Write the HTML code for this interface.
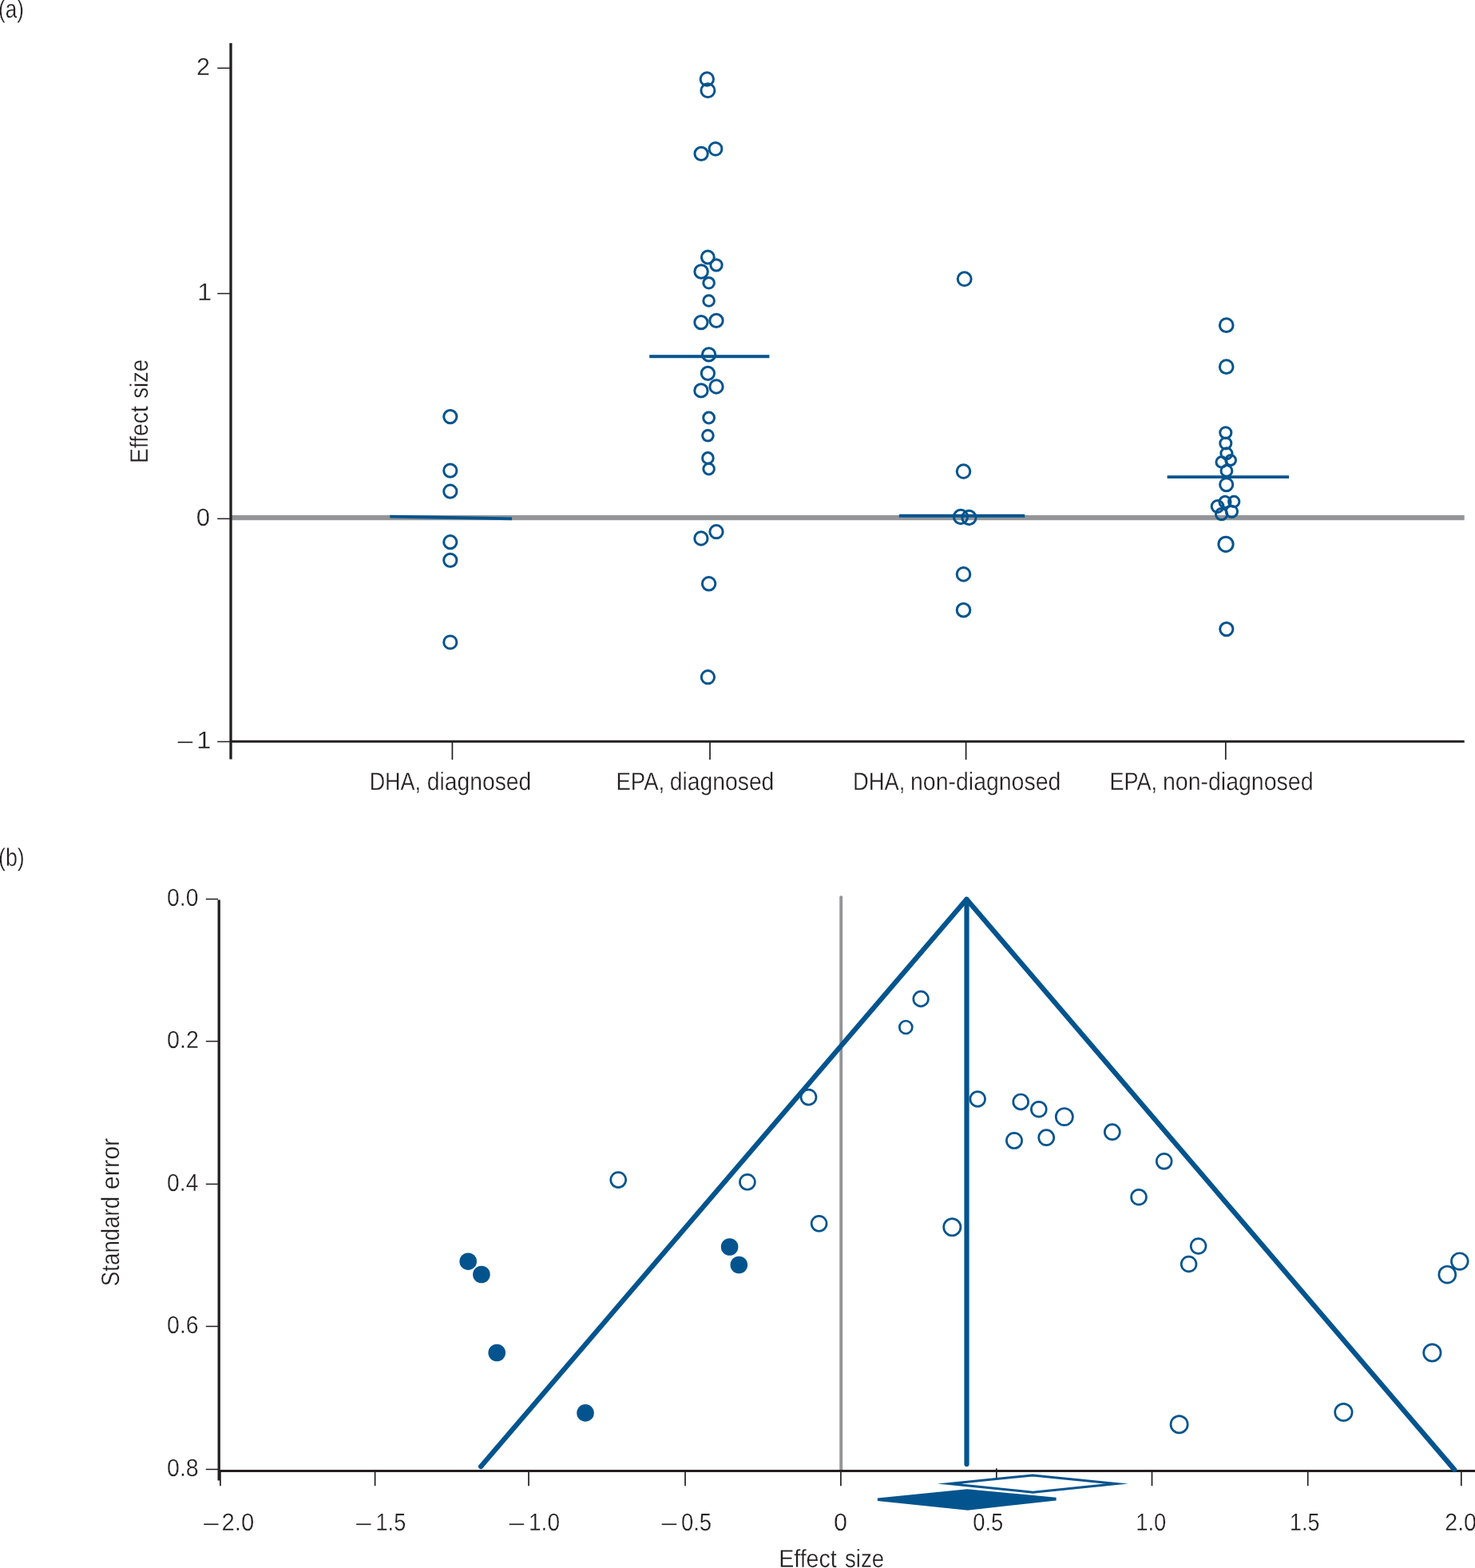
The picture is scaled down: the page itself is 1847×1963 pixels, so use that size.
<!DOCTYPE html>
<html lang="en"><head><meta charset="utf-8"><title>Effect size figure</title>
<style>html,body{margin:0;padding:0;background:#fff}svg{display:block}text{font-family:"Liberation Sans",sans-serif;fill:#231f20;stroke:#fff;stroke-width:0.3;text-rendering:geometricPrecision}</style></head><body>
<svg width="1847" height="1963" viewBox="0 0 1847 1963" role="img" aria-label="Effect size scatter plot and funnel plot">
<rect width="1847" height="1963" fill="#fff"/>
<g id="panel-a">
<text transform="translate(-1.96,22.10) scale(0.8176,1)" font-size="31.8">(a)</text>
<line x1="290" y1="648.15" x2="1833.7" y2="648.15" stroke="#939598" stroke-width="6.2"/>
<line x1="289" y1="54" x2="289" y2="950.5" stroke="#231f20" stroke-width="3.3"/>
<line x1="289" y1="928.3" x2="1833.7" y2="928.3" stroke="#231f20" stroke-width="3.05"/>
<line x1="272.2" y1="85.3" x2="288" y2="85.3" stroke="#231f20" stroke-width="1.5"/>
<line x1="272.2" y1="367.5" x2="288" y2="367.5" stroke="#231f20" stroke-width="1.5"/>
<line x1="272.2" y1="649.4" x2="288" y2="649.4" stroke="#231f20" stroke-width="1.5"/>
<line x1="272.2" y1="928.5" x2="288" y2="928.5" stroke="#231f20" stroke-width="1.5"/>
<line x1="566.4" y1="929" x2="566.4" y2="951.1" stroke="#231f20" stroke-width="1.7"/>
<line x1="889.0" y1="929" x2="889.0" y2="951.1" stroke="#231f20" stroke-width="1.7"/>
<line x1="1209.6" y1="929" x2="1209.6" y2="951.1" stroke="#231f20" stroke-width="1.7"/>
<line x1="1534.8" y1="929" x2="1534.8" y2="951.1" stroke="#231f20" stroke-width="1.7"/>
<text transform="translate(245.97,94.20) scale(0.9983,1)" font-size="30.6">2</text>
<text transform="translate(247.01,376.10) scale(1.0686,1)" font-size="30.6">1</text>
<text transform="translate(245.76,658.20) scale(1.0144,1)" font-size="30.6">0</text>
<text transform="translate(222.50,937.20) scale(1.1011,1)" font-size="30.6">–</text>
<text transform="translate(246.21,937.20) scale(1.0686,1)" font-size="30.6">1</text>
<text y="988.70" font-size="31.6"><tspan x="462.64" textLength="64.46" lengthAdjust="spacingAndGlyphs">DHA,</tspan> <tspan x="534.87" textLength="130.37" lengthAdjust="spacingAndGlyphs">diagnosed</tspan></text>
<text y="988.70" font-size="31.6"><tspan x="771.50" textLength="60.67" lengthAdjust="spacingAndGlyphs">EPA,</tspan> <tspan x="838.87" textLength="130.48" lengthAdjust="spacingAndGlyphs">diagnosed</tspan></text>
<text y="988.70" font-size="31.6"><tspan x="1068.11" textLength="65.33" lengthAdjust="spacingAndGlyphs">DHA,</tspan> <tspan x="1140.05" textLength="188.25" lengthAdjust="spacingAndGlyphs">non-diagnosed</tspan></text>
<text y="988.70" font-size="31.6"><tspan x="1389.54" textLength="59.58" lengthAdjust="spacingAndGlyphs">EPA,</tspan> <tspan x="1455.95" textLength="188.55" lengthAdjust="spacingAndGlyphs">non-diagnosed</tspan></text>
<text transform="translate(185.40,577.80) rotate(-90)" y="0" font-size="31.6"><tspan x="-2.26" textLength="71.70" lengthAdjust="spacingAndGlyphs">Effect</tspan> <tspan x="78.98" textLength="48.75" lengthAdjust="spacingAndGlyphs">size</tspan></text>
<line x1="488.3" y1="646.6" x2="641.0" y2="649.4" stroke="#03548e" stroke-width="3.95"/>
<line x1="813.2" y1="446.15" x2="963.4" y2="446.15" stroke="#03548e" stroke-width="3.95"/>
<line x1="1125.9" y1="645.8" x2="1283.2" y2="645.8" stroke="#03548e" stroke-width="3.95"/>
<line x1="1461.6" y1="597.1" x2="1614.0" y2="597.1" stroke="#03548e" stroke-width="3.95"/>
<g fill="none" stroke="#03548e" stroke-width="3.0">
<circle cx="563.8" cy="521.6" r="8.10"/>
<circle cx="563.8" cy="589.1" r="8.10"/>
<circle cx="563.8" cy="615.2" r="8.10"/>
<circle cx="563.8" cy="678.7" r="8.10"/>
<circle cx="563.8" cy="701.4" r="8.10"/>
<circle cx="563.8" cy="804.0" r="8.10"/>
<circle cx="885.3" cy="99.0" r="8.20"/>
<circle cx="886.4" cy="113.3" r="8.50"/>
<circle cx="896.0" cy="186.4" r="7.90"/>
<circle cx="878.1" cy="192.4" r="8.15"/>
<circle cx="886.3" cy="322.0" r="7.90"/>
<circle cx="897.0" cy="331.8" r="7.15"/>
<circle cx="878.1" cy="340.0" r="8.25"/>
<circle cx="887.6" cy="354.2" r="6.80"/>
<circle cx="887.6" cy="376.5" r="6.80"/>
<circle cx="897.0" cy="401.4" r="8.15"/>
<circle cx="877.9" cy="403.6" r="8.15"/>
<circle cx="887.6" cy="443.9" r="8.15"/>
<circle cx="886.4" cy="467.4" r="8.10"/>
<circle cx="897.0" cy="484.0" r="8.15"/>
<circle cx="877.9" cy="488.9" r="8.15"/>
<circle cx="887.6" cy="523.0" r="6.90"/>
<circle cx="886.4" cy="545.3" r="6.80"/>
<circle cx="886.4" cy="573.4" r="6.80"/>
<circle cx="887.6" cy="587.1" r="6.80"/>
<circle cx="897.0" cy="665.7" r="8.15"/>
<circle cx="877.9" cy="674.0" r="8.15"/>
<circle cx="887.6" cy="730.8" r="8.25"/>
<circle cx="886.4" cy="847.7" r="8.15"/>
<circle cx="1207.7" cy="349.3" r="8.45"/>
<circle cx="1206.5" cy="590.1" r="8.30"/>
<circle cx="1203.0" cy="647.0" r="8.65"/>
<circle cx="1213.4" cy="648.0" r="8.65"/>
<circle cx="1206.5" cy="718.9" r="8.30"/>
<circle cx="1206.5" cy="763.8" r="8.30"/>
<circle cx="1535.7" cy="407.2" r="8.35"/>
<circle cx="1535.7" cy="459.2" r="8.35"/>
<circle cx="1534.8" cy="541.7" r="7.05"/>
<circle cx="1534.8" cy="555.0" r="7.05"/>
<circle cx="1535.9" cy="567.7" r="7.05"/>
<circle cx="1541.1" cy="576.1" r="6.40"/>
<circle cx="1529.6" cy="578.4" r="6.65"/>
<circle cx="1535.9" cy="589.4" r="6.90"/>
<circle cx="1535.7" cy="606.7" r="8.05"/>
<circle cx="1534.0" cy="628.4" r="7.05"/>
<circle cx="1545.2" cy="627.9" r="6.65"/>
<circle cx="1524.6" cy="634.0" r="7.40"/>
<circle cx="1542.4" cy="640.3" r="7.15"/>
<circle cx="1529.6" cy="643.6" r="7.15"/>
<circle cx="1535.0" cy="681.3" r="9.15"/>
<circle cx="1535.8" cy="787.6" r="8.10"/>
</g>
</g>
<g id="panel-b">
<text transform="translate(-2.00,1084.00) scale(0.8485,1)" font-size="31.5">(b)</text>
<line x1="1053.2" y1="1123.2" x2="1053.2" y2="1840" stroke="#939598" stroke-width="3.9" stroke-linecap="round"/>
<line x1="274.2" y1="1126.5" x2="274.2" y2="1853.5" stroke="#231f20" stroke-width="3.3"/>
<line x1="274.2" y1="1841.4" x2="1847" y2="1841.4" stroke="#231f20" stroke-width="3.05"/>
<line x1="257.8" y1="1125.6" x2="273" y2="1125.6" stroke="#231f20" stroke-width="1.5"/>
<line x1="257.8" y1="1303.6" x2="273" y2="1303.6" stroke="#231f20" stroke-width="1.5"/>
<line x1="257.8" y1="1482.4" x2="273" y2="1482.4" stroke="#231f20" stroke-width="1.5"/>
<line x1="257.8" y1="1660.5" x2="273" y2="1660.5" stroke="#231f20" stroke-width="1.5"/>
<line x1="257.8" y1="1839.5" x2="273" y2="1839.5" stroke="#231f20" stroke-width="1.5"/>
<line x1="275.9" y1="1841" x2="275.9" y2="1860.2" stroke="#231f20" stroke-width="1.7"/>
<line x1="469.6" y1="1841" x2="469.6" y2="1860.2" stroke="#231f20" stroke-width="1.7"/>
<line x1="662.0" y1="1841" x2="662.0" y2="1860.2" stroke="#231f20" stroke-width="1.7"/>
<line x1="858.0" y1="1841" x2="858.0" y2="1860.2" stroke="#231f20" stroke-width="1.7"/>
<line x1="1052.9" y1="1841" x2="1052.9" y2="1860.2" stroke="#231f20" stroke-width="1.7"/>
<line x1="1247.8" y1="1838.2" x2="1247.8" y2="1860.2" stroke="#231f20" stroke-width="1.7"/>
<line x1="1442.5" y1="1841" x2="1442.5" y2="1860.2" stroke="#231f20" stroke-width="1.7"/>
<line x1="1637.7" y1="1841" x2="1637.7" y2="1860.2" stroke="#231f20" stroke-width="1.7"/>
<line x1="1829.8" y1="1841" x2="1829.8" y2="1860.2" stroke="#231f20" stroke-width="1.7"/>
<text transform="translate(209.07,1134.10) scale(0.9270,1)" font-size="30.6">0.0</text>
<text transform="translate(209.05,1311.90) scale(0.9377,1)" font-size="30.6">0.2</text>
<text transform="translate(209.07,1490.80) scale(0.9235,1)" font-size="30.6">0.4</text>
<text transform="translate(209.06,1669.30) scale(0.9305,1)" font-size="30.6">0.6</text>
<text transform="translate(209.06,1848.20) scale(0.9305,1)" font-size="30.6">0.8</text>
<text transform="translate(255.10,1916.10) scale(1.1011,1)" font-size="30.6">–</text>
<text transform="translate(446.10,1916.10) scale(1.1011,1)" font-size="30.6">–</text>
<text transform="translate(637.60,1916.10) scale(1.1011,1)" font-size="30.6">–</text>
<text transform="translate(828.60,1916.10) scale(1.1011,1)" font-size="30.6">–</text>
<text transform="translate(277.54,1916.10) scale(0.9566,1)" font-size="30.6">2.0</text>
<text transform="translate(470.57,1916.10) scale(0.8843,1)" font-size="30.6">1.5</text>
<text transform="translate(662.00,1916.10) scale(0.9166,1)" font-size="30.6">1.0</text>
<text transform="translate(852.90,1916.10) scale(0.8981,1)" font-size="30.6">0.5</text>
<text transform="translate(1044.08,1916.10) scale(1.0008,1)" font-size="30.6">0</text>
<text transform="translate(1218.21,1916.10) scale(0.8931,1)" font-size="30.6">0.5</text>
<text transform="translate(1422.14,1916.10) scale(0.8961,1)" font-size="30.6">1.0</text>
<text transform="translate(1615.09,1916.10) scale(0.8740,1)" font-size="30.6">1.5</text>
<text transform="translate(1809.27,1916.10) scale(0.9341,1)" font-size="30.6">2.0</text>
<text y="1961.90" font-size="31.6"><tspan x="975.21" textLength="72.53" lengthAdjust="spacingAndGlyphs">Effect</tspan> <tspan x="1057.97" textLength="49.06" lengthAdjust="spacingAndGlyphs">size</tspan></text>
<text transform="translate(149.40,1608.90) rotate(-90)" y="0" font-size="31.6"><tspan x="-1.25" textLength="112.31" lengthAdjust="spacingAndGlyphs">Standard</tspan> <tspan x="119.78" textLength="64.42" lengthAdjust="spacingAndGlyphs">error</tspan></text>
<polyline points="602.1,1836 1210.4,1125.8 1821.2,1839.9" fill="none" stroke="#03548e" stroke-width="6.25" stroke-linecap="round" stroke-linejoin="round"/>
<line x1="1210.5" y1="1126" x2="1210.5" y2="1833" stroke="#03548e" stroke-width="6.2" stroke-linecap="round"/>
<g fill="none" stroke="#03548e" stroke-width="2.7">
<circle cx="1153.1" cy="1250.5" r="9.30"/>
<circle cx="1134.3" cy="1286.0" r="8.00"/>
<circle cx="1012.5" cy="1373.6" r="9.50"/>
<circle cx="1224.2" cy="1375.9" r="9.30"/>
<circle cx="1278.2" cy="1379.4" r="9.40"/>
<circle cx="1300.8" cy="1388.7" r="9.40"/>
<circle cx="1332.8" cy="1398.1" r="10.60"/>
<circle cx="1392.8" cy="1417.2" r="9.50"/>
<circle cx="1270.0" cy="1427.9" r="9.60"/>
<circle cx="1310.2" cy="1424.2" r="9.50"/>
<circle cx="1457.7" cy="1453.8" r="9.40"/>
<circle cx="1426.0" cy="1498.7" r="9.40"/>
<circle cx="1192.3" cy="1536.3" r="10.60"/>
<circle cx="1500.6" cy="1560.0" r="9.40"/>
<circle cx="1488.6" cy="1582.5" r="9.40"/>
<circle cx="774.2" cy="1477.1" r="9.45"/>
<circle cx="935.9" cy="1479.8" r="9.45"/>
<circle cx="1025.6" cy="1531.8" r="9.45"/>
<circle cx="1827.8" cy="1579.1" r="10.35"/>
<circle cx="1812.3" cy="1595.7" r="10.45"/>
<circle cx="1793.4" cy="1693.5" r="10.70"/>
<circle cx="1682.4" cy="1768.0" r="10.70"/>
<circle cx="1476.6" cy="1783.2" r="10.60"/>
</g>
<g fill="#03548e">
<circle cx="913.6" cy="1561.0" r="10.8"/>
<circle cx="925.3" cy="1583.5" r="10.8"/>
<circle cx="586.2" cy="1579.2" r="10.8"/>
<circle cx="602.9" cy="1595.5" r="10.8"/>
<circle cx="622.2" cy="1693.5" r="10.8"/>
<circle cx="733.0" cy="1768.9" r="10.8"/>
</g>
<polygon points="1188.7,1857.5 1293.3,1846.9 1397.9,1857.5 1293.3,1868.2" fill="#fff" stroke="#03548e" stroke-width="3" stroke-miterlimit="30"/>
<polygon points="1098.8,1875.4 1211,1864.3 1322.6,1874.8 1322.6,1878.4 1211.7,1890.8 1098.8,1878.9" fill="#03548e"/>
</g>
</svg></body></html>
